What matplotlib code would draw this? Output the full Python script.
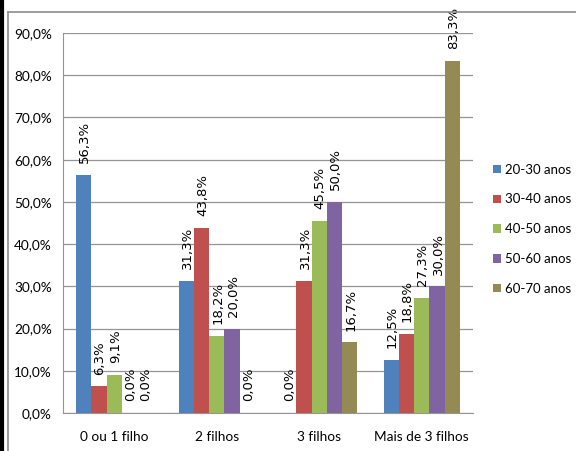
import numpy as np
import matplotlib
matplotlib.use('Agg')
import matplotlib.pyplot as plt
from matplotlib.lines import Line2D
from matplotlib.ticker import FuncFormatter

categories = ['0 ou 1 filho', '2 filhos', '3 filhos', 'Mais de 3 filhos']
series = ['20-30 anos', '30-40 anos', '40-50 anos', '50-60 anos', '60-70 anos']
values = {
    '20-30 anos': [56.3, 31.3, 0.0, 12.5],
    '30-40 anos': [6.3, 43.8, 31.3, 18.8],
    '40-50 anos': [9.1, 18.2, 45.5, 27.3],
    '50-60 anos': [0.0, 20.0, 50.0, 30.0],
    '60-70 anos': [0.0, 0.0, 16.7, 83.3],
}
colors = ['#4F81BD', '#C0504D', '#9BBB59', '#8064A2', '#948A54']

narrow = ['Lato', 'DejaVu Sans']

fig = plt.figure(figsize=(5.76, 4.51), dpi=100)
ax = fig.add_axes([63/576, 1 - 413/451, 410/576, 380/451])

x = np.arange(len(categories))
w = 0.149
for i, s in enumerate(series):
    pos = x + (i - 2) * w
    bars = ax.bar(pos, values[s], width=w, color=colors[i], label=s, zorder=3)
    for b, v in zip(bars, values[s]):
        ax.annotate(f'{v:.1f}%'.replace('.', ','),
                    (b.get_x() + b.get_width() / 2 + 0.01, v),
                    xytext=(0, 8.5), textcoords='offset points',
                    rotation=90, ha='center', va='bottom',
                    fontsize=9.5, family='DejaVu Sans', annotation_clip=False)

ax.set_xlim(-0.5, 3.5)
ax.set_ylim(0, 90)
ax.set_yticks(np.arange(0, 91, 10))
ax.yaxis.set_major_formatter(FuncFormatter(lambda v, p: f'{v:.1f}%'.replace('.', ',')))
ax.set_xticks(x)
ax.set_xticklabels(categories)
ax.tick_params(axis='both', length=0, labelsize=9.8)
ax.tick_params(axis='y', pad=8)
ax.tick_params(axis='x', pad=13)
for lab in ax.get_xticklabels() + ax.get_yticklabels():
    lab.set_family(narrow)
ax.grid(axis='y', color='#959595', linewidth=0.9, zorder=0)
for side in ['top', 'right']:
    ax.spines[side].set_visible(False)
for side in ['left', 'bottom']:
    ax.spines[side].set_color('#959595')

leg = ax.legend(loc='upper left', bbox_to_anchor=(1.035, 0.67), frameon=False,
                handlelength=0.6, handleheight=0.6, handletextpad=0.35,
                labelspacing=1.35, borderaxespad=0,
                prop={'family': narrow, 'size': 9.5})

# chart area border
fig.add_artist(Line2D([8/576, 8/576], [0, 1 - 12/451], color='#8c8c8c', lw=1.2))
fig.add_artist(Line2D([8/576, 1], [1 - 12/451, 1 - 12/451], color='#8c8c8c', lw=1.2))
fig.add_artist(Line2D([2/576, 2/576], [0, 1], color='black', lw=3))

fig.savefig('out.png', dpi=100)
